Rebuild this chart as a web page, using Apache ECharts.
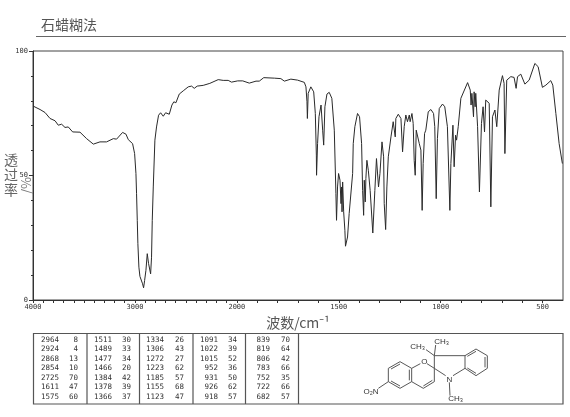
<!DOCTYPE html>
<html><head><meta charset="utf-8">
<style>html,body{margin:0;padding:0;background:#fff}#c{width:570px;height:417px}</style>
<script src="https://cdn.jsdelivr.net/npm/echarts@6/dist/echarts.min.js"></script></head>
<body><div id="c"></div>
<script>
const wavenumbers=[4000,3931,3882,3833,3784,3752,3719,3686,3654,3611,3539,3474,3408,3343,3278,3212,3180,3121,3088,3065,3023,3003,2990,2984,2977,2971,2961,2951,2938,2925,2915,2905,2892,2879,2866,2846,2837,2830,2820,2804,2788,2768,2748,2722,2699,2663,2637,2618,2598,2565,2526,2477,2444,2418,2389,2330,2265,2183,2134,2085,2052,1996,1971,1939,1906,1890,1868,1816,1784,1767,1735,1702,1669,1661,1656,1654,1650,1637,1623,1615,1610,1609,1604,1597,1587,1579,1574,1568,1558,1547,1534,1522,1514,1511,1506,1501,1494,1489,1486,1484,1481,1476,1470,1467,1457,1449,1432,1429,1421,1408,1398,1388,1383,1378,1375,1370,1367,1362,1355,1346,1333,1323,1315,1305,1298,1288,1280,1277,1270,1264,1257,1244,1233,1226,1223,1220,1208,1195,1187,1179,1171,1163,1154,1150,1141,1135,1130,1125,1120,1114,1105,1097,1091,1086,1079,1073,1061,1048,1035,1029,1022,1016,1007,991,980,967,955,950,940,934,927,922,914,901,868,855,851,847,839,836,831,828,819,810,800,792,785,779,762,754,746,734,725,713,697,689,685,676,656,640,630,623,607,587,566,538,522,501,484,460,450,435,419,403];
const transmittance=[77.9,76.5,75.3,72.9,72,70.2,70.6,69.3,69.5,67.5,67.4,64.8,62.6,63.5,63.5,64.8,64.6,67.3,66.6,64.4,62.8,58.8,50.8,42.7,32,22.6,13.2,9.5,10,6.5,4.9,7.8,11.9,18.6,14.6,10.5,17.2,32,45.4,64.2,69.5,74.2,75.2,73.8,75.2,74.6,78.3,79.6,79.2,82.7,84,85.6,85.9,85,85.9,86.2,87,88.5,88.2,88.2,87.5,88,88,87.1,87.9,87.9,89.3,89.1,88.9,87.9,88.7,88.3,87.4,85.6,79.6,72.9,83,85.6,83.6,74.9,58.2,50.1,62.8,73.6,78.3,68.2,62.2,77.6,82.7,83.4,81,68.2,42.7,32,45.4,50.8,48.1,38.7,45.4,35.4,47.4,35.4,28,21.6,25.3,34.7,50.8,62.8,69.6,74.9,73.6,62.8,44,34,48.1,39.4,48.8,56.1,52.1,44,26.9,44,56.8,45.4,50.8,63.5,57.5,38.7,28.3,45.4,57.5,65.5,71.6,72.2,65.5,72.9,74.6,72.9,59.5,69.6,74.3,71.6,74.3,71.6,74.9,70.9,56.1,50.1,68.2,68.5,62.8,60.2,36,54.8,66.9,68.2,75.6,76.5,74.9,69.6,40.7,64.9,76.9,78.7,77.6,69.6,36,54.8,70.2,53.5,66.2,64.2,69.6,81,87.3,84.3,78.3,83,73.6,83.6,77.6,83,69.6,43.4,70.9,77.6,67.5,80.3,79,37.4,73.6,76.3,69.6,84.3,90.1,87,58.8,88.3,89.7,89.4,85,89.7,90.7,86.7,88.3,95,93.7,85.4,86.3,88.1,86.3,74.9,62.8,54.8];
const xTickLabels=[4000,3000,2000,1500,1000,500];
const xTickValues=[4000,3900,3800,3700,3600,3500,3400,3300,3200,3100,3000,2900,2800,2700,2600,2500,2400,2300,2200,2100,2000,1900,1800,1700,1600,1500,1400,1300,1200,1100,1000,900,800,700,600,500];
const yTickLabels=[0,50,100];
const peakColumns=[
 [[2964,8],[2924,4],[2868,13],[2854,10],[2725,70],[1611,47],[1575,60]],
 [[1511,30],[1489,33],[1477,34],[1466,20],[1384,42],[1378,39],[1366,37]],
 [[1334,26],[1306,43],[1272,27],[1223,62],[1185,57],[1155,68],[1123,47]],
 [[1091,34],[1022,39],[1015,52],[952,36],[931,50],[926,62],[918,57]],
 [[839,70],[819,64],[806,42],[783,66],[752,35],[722,66],[682,57]]
];
// The spectrum's abscissa changes scale at 2000 cm-1 (half as many px per cm-1 above it)
const toAxis=w=>w>2000?2000+(w-2000)/2:w;
const fromAxis=u=>u>2000?2000+(u-2000)*2:u;

const cjk='"Noto Sans CJK SC","Noto Sans",sans-serif';
const small='"DejaVu Sans Mono",monospace';
const ink='#3a3a3a';
const g=[];
// title rule
g.push({type:'line',shape:{x1:36,y1:36.5,x2:566,y2:36.5},style:{stroke:'#666',lineWidth:1.2}});
// y axis name
g.push({type:'text',style:{x:4,y:152,text:'透\n过\n率',font:'14px '+cjk,lineHeight:15,fill:'#666'}});
g.push({type:'text',x:7,y:208,rotation:Math.PI/2,style:{x:0,y:0,text:'/%',font:'13px '+cjk,fill:'#777',textVerticalAlign:'top',align:'left'},rotation:Math.PI/2,originX:0,originY:0,x:20,y:194});
// table
const T={l:33.5,t:333.5,b:404,r:563,seps:[87,139.5,193,245.5,298.5]};
g.push({type:'rect',shape:{x:T.l,y:T.t,width:T.r-T.l,height:T.b-T.t},style:{fill:'none',stroke:'#555',lineWidth:1.2}});
T.seps.forEach(x=>g.push({type:'line',shape:{x1:x,y1:T.t,x2:x,y2:T.b},style:{stroke:'#555',lineWidth:1.2}}));
const colX=[[59,78],[112,131],[164,184],[218,237],[270,290]];
const rowY=[340,349.4,358.8,368.2,377.7,387.2,396.7];
peakColumns.forEach((col,c)=>col.forEach((row,r)=>{
  row.forEach((v,k)=>g.push({type:'text',style:{x:colX[c][k],y:rowY[r],text:String(v),font:'7.5px '+small,fill:'#333',align:'right',verticalAlign:'middle'}}));
}));
// structure
const sx=z=>295+z/3, sy=z=>325+z/3;
const bond=(a,b,c,d)=>g.push({type:'line',shape:{x1:sx(a),y1:sy(b),x2:sx(c),y2:sy(d)},style:{stroke:'#444',lineWidth:0.9}});
[[280,130,315,110],[315,110,350,130],[350,130,350,170],[350,170,315,190],[315,190,280,170],[280,170,280,130],
 [288,132,315,117],[343,134,343,166],[315,183,288,168],
 [350,130,376,116],[396,116,418,130],[418,130,418,170],[418,170,385,190],[385,190,350,170],[412,166,385,183],
 [418,130,418,92],[418,92,510,92],[510,92,510,130],[510,130,474,152],[452,152,418,130],
 [510,92,543,72],[543,72,577,92],[577,92,577,130],[577,130,543,152],[543,152,510,130],
 [517,94,543,79],[570,96,570,127],[543,145,517,129],
 [418,92,422,60],[418,92,393,74],[463,172,465,212],[250,190,280,170]
].forEach(b=>bond(...b));
const lab=(z1,z2,t,al)=>g.push({type:'text',style:{x:sx(z1),y:sy(z2),text:t,font:'8px '+'"Liberation Sans",sans-serif',fill:'#333',align:al||'center',verticalAlign:'middle'}});
lab(440,50,'CH₃');lab(368,65,'CH₃');lab(482,222,'CH₃');lab(388,110,'O');lab(463,163,'N');lab(228,200,'O₂N');

const chart=echarts.init(document.getElementById('c'),null,{renderer:'canvas'});
chart.setOption({
 animation:false,
 backgroundColor:'#fff',
 title:{text:'石蜡糊法',left:36,top:13,textStyle:{fontFamily:cjk,fontSize:14,fontWeight:'normal',color:'#555'}},
 grid:{left:33,right:7,top:51,bottom:117,show:true,borderColor:'#444',borderWidth:1,backgroundColor:'transparent'},
 xAxis:{type:'value',inverse:true,min:400,max:3000,
  name:'波数/cm⁻¹',nameLocation:'middle',nameGap:15,
  nameTextStyle:{fontFamily:cjk,fontSize:14,color:'#555',padding:[0,0,0,0]},
  splitLine:{show:false},
  axisLine:{lineStyle:{color:'#333',width:1}},
  axisTick:{length:3,lineStyle:{color:'#333'},customValues:xTickValues.map(toAxis)},
  axisLabel:{margin:4,fontFamily:small,fontSize:7,color:'#333',customValues:xTickLabels.map(toAxis),formatter:v=>String(fromAxis(v))}
 },
 yAxis:{type:'value',min:yTickLabels[0],max:yTickLabels[2],interval:50,
  splitLine:{show:false},
  axisLine:{show:true,lineStyle:{color:'#333',width:1}},
  axisTick:{show:true,length:4,lineStyle:{color:'#333'}},
  minorTick:{show:true,splitNumber:5,length:2,lineStyle:{color:'#333'}},
  axisLabel:{margin:5,fontFamily:small,fontSize:7,color:'#333'}
 },
 series:[{type:'line',symbol:'none',sampling:null,smooth:false,clip:true,
  lineStyle:{color:'#2a2a2a',width:1},
  data:wavenumbers.map((w,i)=>[toAxis(w),transmittance[i]])}],
 graphic:{elements:g}
});
</script></body></html>
